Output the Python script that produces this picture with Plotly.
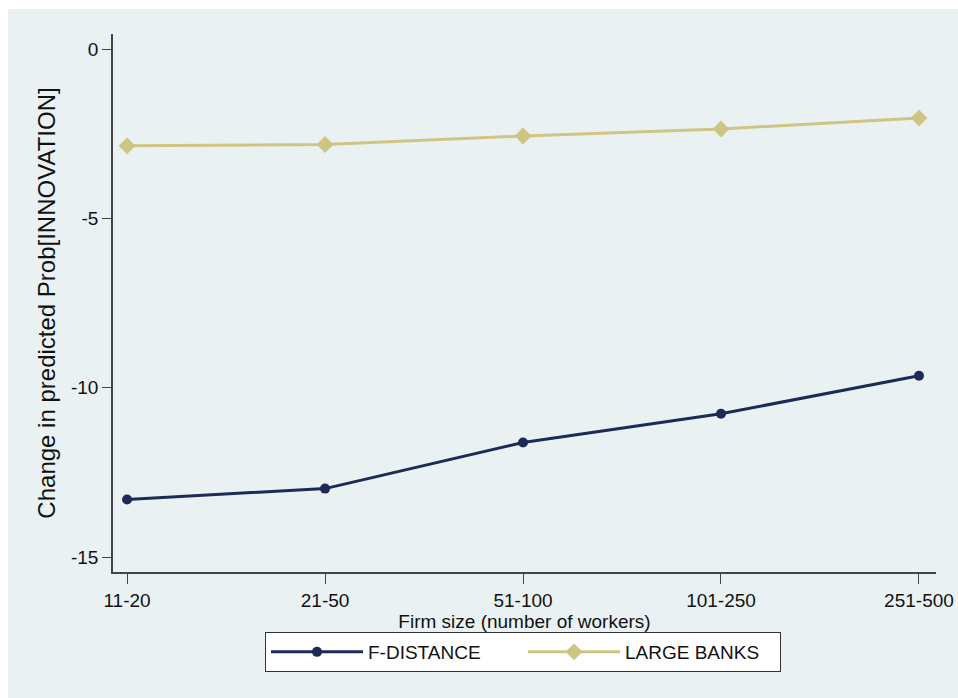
import plotly.graph_objects as go

# Firm-size classes on the horizontal axis
size_classes = ["11-20", "21-50", "51-100", "101-250", "251-500"]

# Change in predicted probability of innovation, by firm size
f_distance = [-13.30, -12.98, -11.62, -10.77, -9.65]
large_banks = [-2.86, -2.82, -2.57, -2.36, -2.04]

y_ticks = [0, -5, -10, -15]

BG = "#EAF1F3"
NAVY = "#1C2A57"
KHAKI = "#CFC583"
FONT = "Liberation Sans, Arial, sans-serif"

fig = go.Figure()

fig.add_trace(go.Scatter(
    x=list(range(len(size_classes))), y=f_distance, name="F-DISTANCE",
    mode="lines+markers",
    line=dict(color=NAVY, width=3),
    marker=dict(symbol="circle", size=10, color=NAVY),
))
fig.add_trace(go.Scatter(
    x=list(range(len(size_classes))), y=large_banks, name="LARGE BANKS",
    mode="lines+markers",
    line=dict(color=KHAKI, width=3),
    marker=dict(symbol="diamond", size=13, color=KHAKI),
))

# Shaded graph region behind the plot, leaving a thin white strip top/left
W, H = 958, 698
L, R, T, B = 113, 22, 34, 126
pw, ph = W - L - R, H - T - B
fig.add_shape(
    type="rect", xref="paper", yref="paper", layer="below",
    x0=(8 - L) / pw, x1=(W + 10 - L) / pw,
    y0=(H - B - 710) / ph, y1=(H - B - 9) / ph,
    fillcolor=BG, line=dict(width=0),
)

fig.update_layout(
    width=W, height=H,
    autosize=False,
    margin=dict(l=L, r=R, t=T, b=B, pad=0, autoexpand=False),
    paper_bgcolor="white",
    plot_bgcolor="white",
    font=dict(family=FONT, size=19, color="#111"),
    showlegend=True,
    legend=dict(
        orientation="h",
        x=(523 - L) / pw, xanchor="center",
        y=(H - B - 632) / ph, yanchor="top",
        bgcolor="white", bordercolor="#333", borderwidth=1,
        font=dict(family=FONT, size=19, color="#111"),
        entrywidth=150, itemwidth=92,
    ),
    xaxis=dict(
        range=[-0.071, 4.086],
        automargin=False,
        tickmode="array",
        tickvals=list(range(len(size_classes))),
        ticktext=size_classes,
        ticks="outside", ticklen=10, tickwidth=1.2, tickcolor="#444",
        showline=True, linecolor="#444", linewidth=1.5,
        showgrid=False, zeroline=False,
        tickfont=dict(size=19),
        title=dict(text="Firm size (number of workers)", font=dict(size=19), standoff=0),
    ),
    yaxis=dict(
        range=[-15.443, 0.443],
        automargin=False,
        tickmode="array",
        tickvals=y_ticks,
        ticktext=[str(v) for v in y_ticks],
        ticks="outside", ticklen=9, tickwidth=1.2, tickcolor="#444",
        showline=True, linecolor="#444", linewidth=1.5,
        showgrid=True, gridcolor=BG, gridwidth=1.5,
        zeroline=False,
        tickfont=dict(size=19),
        title=dict(text="Change in predicted Prob[INNOVATION]", font=dict(size=24), standoff=9),
    ),
)

fig.write_html("out.html")
